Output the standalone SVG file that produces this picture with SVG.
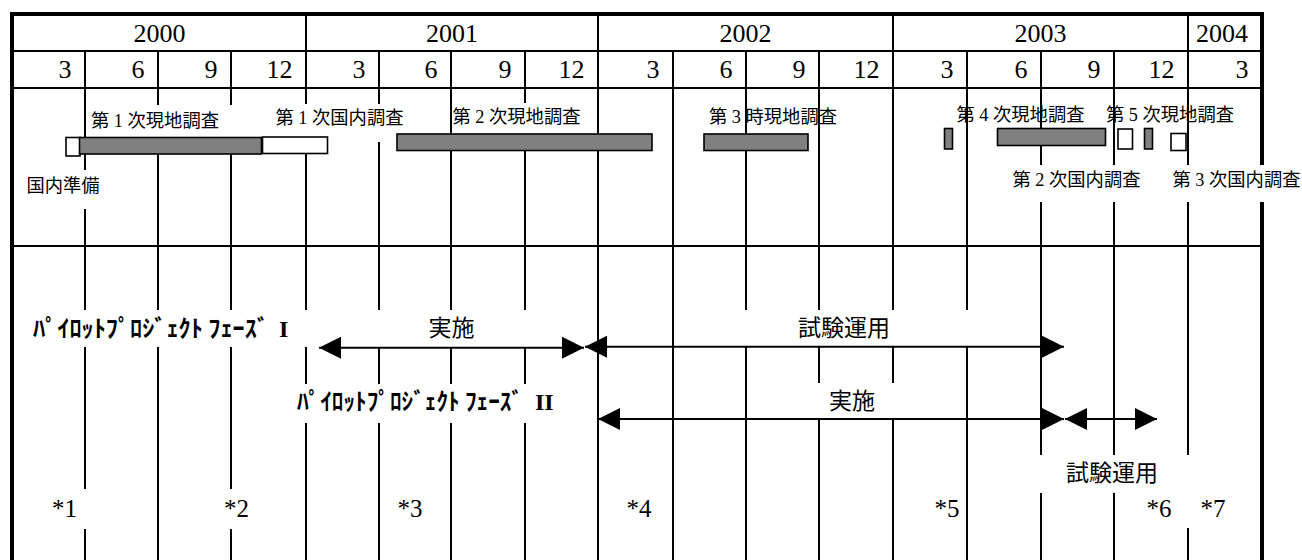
<svg xmlns="http://www.w3.org/2000/svg" width="1302" height="560" viewBox="0 0 1302 560">
<style>
.frame{stroke:#000;stroke-width:4;fill:none}
.grid{stroke:#000;stroke-width:2;fill:none}
.mask{fill:#fff;stroke:none}
.bar{fill:#808080;stroke:#000;stroke-width:1.6}
.wbar{fill:#fff;stroke:#000;stroke-width:1.6}
.yr{font-family:"Liberation Serif",serif;font-size:26px;fill:#000;text-anchor:middle}
.mo{font-family:"Liberation Serif",serif;font-size:26px;fill:#000;text-anchor:end}
.lbl{font-family:"Noto Sans CJK JP",sans-serif;font-size:18.3px;fill:#000}
.num{font-family:"Liberation Serif",serif}
.big{font-family:"Noto Sans CJK JP",sans-serif;font-size:23px;fill:#000;text-anchor:middle}
.phase{font-family:"Noto Sans CJK JP",sans-serif;font-size:23.5px;font-weight:bold;fill:#000}
.rom{font-family:"Liberation Serif",serif;font-weight:bold;font-size:24px;fill:#000}
.note{font-family:"Liberation Serif",serif;font-size:25px;fill:#000}
.arr{stroke:#000;stroke-width:2;fill:none;marker-start:url(#ah);marker-end:url(#ah)}
</style>
<defs>
<marker id="ah" markerUnits="userSpaceOnUse" markerWidth="22" markerHeight="22" viewBox="0 0 20 20" refX="20" refY="10" orient="auto-start-reverse">
<path d="M0,0 L20,10 L0,20 Z" fill="#000"/>
</marker>
</defs>
<rect x="0" y="0" width="1302" height="560" fill="#fff"/>
<g id="grid">
<line class="grid" x1="12" y1="51" x2="1262" y2="51"/>
<line class="grid" x1="12" y1="88" x2="1262" y2="88"/>
<line class="grid" x1="12" y1="246" x2="1262" y2="246"/>
<g id="year-dividers">
<line class="grid" x1="306" y1="14" x2="306" y2="51"/>
<line class="grid" x1="598" y1="14" x2="598" y2="51"/>
<line class="grid" x1="893" y1="14" x2="893" y2="51"/>
<line class="grid" x1="1188" y1="14" x2="1188" y2="51"/>
</g>
<g id="month-lines">
<line class="grid" x1="85" y1="51" x2="85" y2="560"/>
<line class="grid" x1="158" y1="51" x2="158" y2="560"/>
<line class="grid" x1="231" y1="51" x2="231" y2="560"/>
<line class="grid" x1="306" y1="51" x2="306" y2="560"/>
<line class="grid" x1="379" y1="51" x2="379" y2="560"/>
<line class="grid" x1="451" y1="51" x2="451" y2="560"/>
<line class="grid" x1="525" y1="51" x2="525" y2="560"/>
<line class="grid" x1="598" y1="51" x2="598" y2="560"/>
<line class="grid" x1="673" y1="51" x2="673" y2="560"/>
<line class="grid" x1="746" y1="51" x2="746" y2="560"/>
<line class="grid" x1="819" y1="51" x2="819" y2="560"/>
<line class="grid" x1="893" y1="51" x2="893" y2="560"/>
<line class="grid" x1="967" y1="51" x2="967" y2="560"/>
<line class="grid" x1="1041" y1="51" x2="1041" y2="560"/>
<line class="grid" x1="1114" y1="51" x2="1114" y2="560"/>
<line class="grid" x1="1188" y1="51" x2="1188" y2="560"/>
</g>
<line class="frame" x1="10" y1="14" x2="1264" y2="14"/>
<line class="frame" x1="12" y1="12" x2="12" y2="560"/>
<line class="frame" x1="1262" y1="12" x2="1262" y2="560"/>
</g>
<g id="header">
<text class="yr" x="159.5" y="41.5">2000</text>
<text class="yr" x="452" y="41.5">2001</text>
<text class="yr" x="745.5" y="41.5">2002</text>
<text class="yr" x="1040.5" y="41.5">2003</text>
<text class="yr" x="1222" y="41.5">2004</text>
<text class="mo" x="71.5" y="77.5">3</text>
<text class="mo" x="144.5" y="77.5">6</text>
<text class="mo" x="217.5" y="77.5">9</text>
<text class="mo" x="292.5" y="77.5">12</text>
<text class="mo" x="365.5" y="77.5">3</text>
<text class="mo" x="437.5" y="77.5">6</text>
<text class="mo" x="511.5" y="77.5">9</text>
<text class="mo" x="584.5" y="77.5">12</text>
<text class="mo" x="659.5" y="77.5">3</text>
<text class="mo" x="732.5" y="77.5">6</text>
<text class="mo" x="805.5" y="77.5">9</text>
<text class="mo" x="879.5" y="77.5">12</text>
<text class="mo" x="953.5" y="77.5">3</text>
<text class="mo" x="1027.5" y="77.5">6</text>
<text class="mo" x="1100.5" y="77.5">9</text>
<text class="mo" x="1174.5" y="77.5">12</text>
<text class="mo" x="1248.5" y="77.5">3</text>
</g>
<g id="label-boxes">
<rect class="mask" x="88" y="105" width="174" height="32"/>
<rect class="mask" x="268" y="104" width="130" height="38"/>
<rect class="mask" x="15" y="170" width="105" height="39"/>
<rect class="mask" x="453" y="103" width="143" height="31"/>
<rect class="mask" x="1000" y="165" width="160" height="37"/>
<rect class="mask" x="1166" y="165" width="136" height="37"/>
<rect class="mask" x="15" y="310" width="577" height="37"/>
<rect class="mask" x="680" y="310" width="355" height="37"/>
<rect class="mask" x="290" y="384" width="300" height="39"/>
<rect class="mask" x="752" y="383" width="208" height="35"/>
<rect class="mask" x="1030" y="455" width="170" height="38"/>
<rect class="mask" x="40" y="489" width="60" height="40"/>
<rect class="mask" x="212" y="489" width="50" height="40"/>
<rect class="mask" x="1180" y="493" width="60" height="35"/>
</g>
<g id="bars">
<rect id="bar-prep" class="wbar" x="66" y="137.5" width="14" height="18.5"/>
<rect id="bar-survey1" class="bar" x="79.5" y="137.5" width="182" height="16.5"/>
<rect id="bar-domestic1" class="wbar" x="262.5" y="137" width="65" height="16.5"/>
<rect id="bar-survey2" class="bar" x="397" y="134" width="255" height="16.5"/>
<rect id="bar-survey3" class="bar" x="704" y="134" width="104" height="16.5"/>
<rect id="bar-small1" class="bar" x="944.5" y="128.5" width="8" height="20.5"/>
<rect id="bar-survey4" class="bar" x="997.5" y="128.5" width="108" height="17"/>
<rect id="bar-domestic2" class="wbar" x="1118" y="129" width="14.5" height="20"/>
<rect id="bar-survey5" class="bar" x="1144.5" y="128.5" width="8" height="20.5"/>
<rect id="bar-domestic3" class="wbar" x="1171" y="133.5" width="15" height="17"/>
</g>
<g id="survey-labels">
<text id="t-survey1" class="lbl" x="91" y="127">第<tspan class="num"> 1 </tspan>次現地調査</text>
<text id="t-domestic1" class="lbl" x="275.5" y="124">第<tspan class="num"> 1 </tspan>次国内調査</text>
<text id="t-prep" class="lbl" x="26.5" y="192">国内準備</text>
<text id="t-survey2" class="lbl" x="452.5" y="123">第<tspan class="num"> 2 </tspan>次現地調査</text>
<text id="t-survey3" class="lbl" x="709" y="123">第<tspan class="num"> 3 </tspan>時現地調査</text>
<text id="t-survey4" class="lbl" x="956.5" y="120.5">第<tspan class="num"> 4 </tspan>次現地調査</text>
<text id="t-survey5" class="lbl" x="1106" y="120.5">第<tspan class="num"> 5 </tspan>次現地調査</text>
<text id="t-domestic2" class="lbl" x="1012.5" y="185.5">第<tspan class="num"> 2 </tspan>次国内調査</text>
<text id="t-domestic3" class="lbl" x="1172.5" y="185.5">第<tspan class="num"> 3 </tspan>次国内調査</text>
</g>
<g id="phase-labels">
<g id="phase1">
<text class="phase" x="33" y="337" textLength="236" lengthAdjust="spacingAndGlyphs">ﾊﾟｲﾛｯﾄﾌﾟﾛｼﾞｪｸﾄ ﾌｪｰｽﾞ</text>
<text class="rom" x="279" y="337">I</text>
</g>
<text id="t-impl1" class="big" x="451.5" y="335.5">実施</text>
<text id="t-trial1" class="big" x="844" y="335.5">試験運用</text>
<g id="phase2">
<text class="phase" x="297" y="410" textLength="226" lengthAdjust="spacingAndGlyphs">ﾊﾟｲﾛｯﾄﾌﾟﾛｼﾞｪｸﾄ ﾌｪｰｽﾞ</text>
<text class="rom" x="535" y="410">II</text>
</g>
<text id="t-impl2" class="big" x="852" y="409">実施</text>
<text id="t-trial2" class="big" x="1112" y="481">試験運用</text>
</g>
<g id="connectors">
<line class="arr" x1="319" y1="347.7" x2="584" y2="347.7"/>
<line class="arr" x1="585" y1="346.7" x2="1064" y2="346.7"/>
<line class="arr" x1="598" y1="419" x2="1064" y2="419"/>
<line class="arr" x1="1065" y1="419" x2="1157" y2="419"/>
</g>
<g id="notes">
<text class="note" x="52" y="517">*1</text>
<text class="note" x="224" y="517">*2</text>
<text class="note" x="397.5" y="517">*3</text>
<text class="note" x="626.5" y="517">*4</text>
<text class="note" x="934.5" y="517">*5</text>
<text class="note" x="1146.5" y="517">*6</text>
<text class="note" x="1200.5" y="517">*7</text>
</g>
</svg>
